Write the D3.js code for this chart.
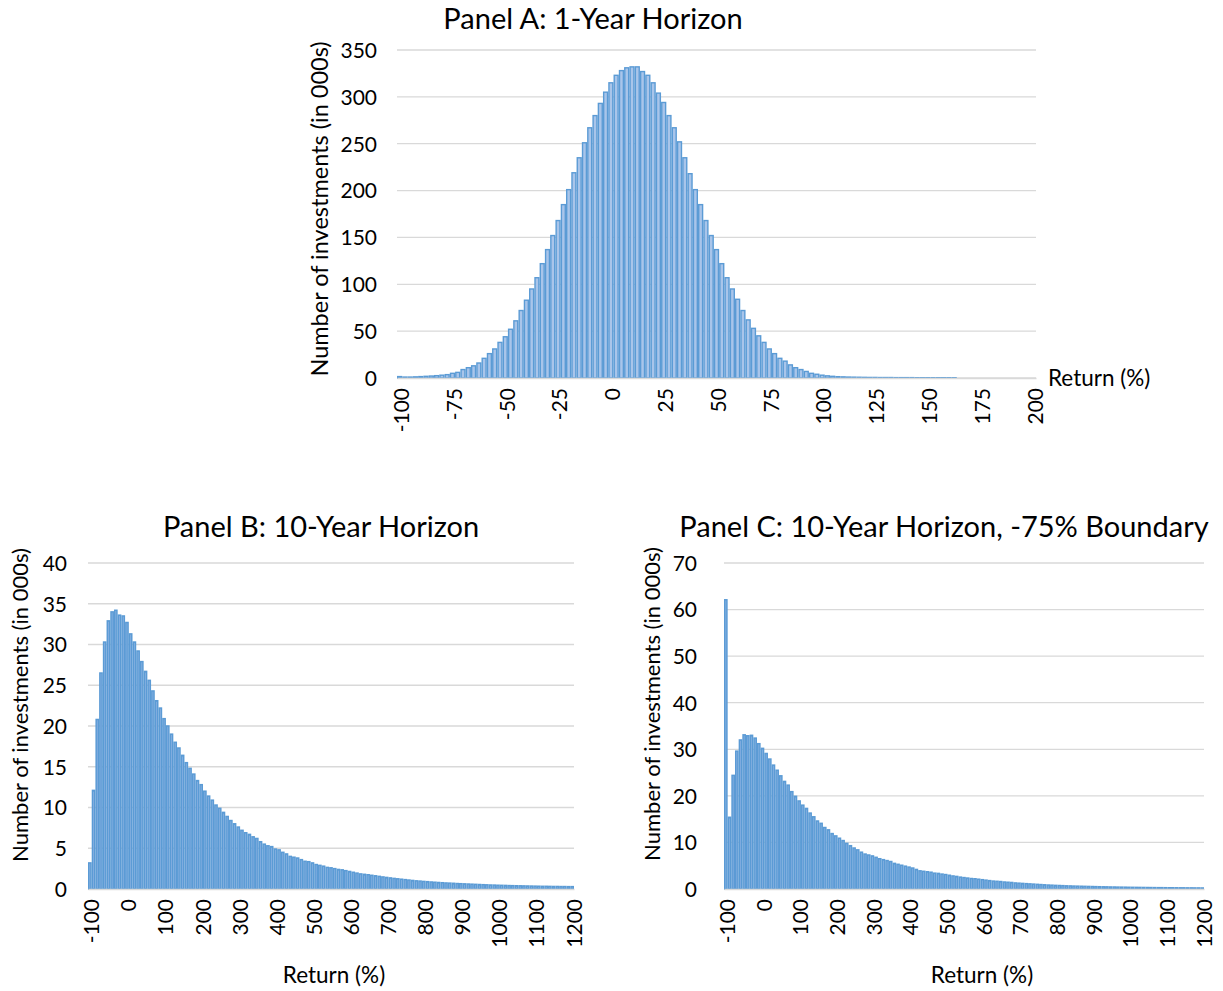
<!DOCTYPE html>
<html><head><meta charset="utf-8">
<script src="https://cdn.jsdelivr.net/npm/d3@7"></script>
<style>
html,body{margin:0;padding:0;background:#fff;}
text{font-family:Lato,"Open Sans",sans-serif;fill:#000;}
</style></head>
<body>
<svg id="chart" width="1223" height="991"></svg>
<script>
// ---------------- DATA ----------------
// Panel A: 1-year horizon, bins of 2.5% from -100 (number of investments, 000s)
const catsA = d3.range(121).map(i => -100 + 2.5 * i);
const valuesA = [1.5, 1, 1, 1.2, 1.5, 1.8, 2.1, 2.5, 3, 3.6,
  5, 6, 9, 11, 13, 16, 21, 26, 31, 38,
  44, 52, 61, 72, 83, 95, 107, 122, 137, 152,
  168, 185, 201, 219, 235, 251, 267, 280, 293, 305,
  315, 323, 328, 331, 332, 332, 327, 323, 315, 304,
  294, 280, 267, 252, 235, 218, 201, 185, 168, 152,
  137, 122, 107, 95, 84, 72, 62, 53, 45, 38,
  31, 26, 21, 18, 14, 11, 9, 7, 5, 4,
  3, 2.3, 1.8, 1.4, 1.2, 1.0, 0.9, 0.8, 0.7, 0.6,
  0.6, 0.5, 0.5, 0.5, 0.4, 0.4, 0.4, 0.4, 0.3, 0.3,
  0.3, 0.3, 0.3, 0.3, 0.3, 0.3];
const ticksA = [-100, -75, -50, -25, 0, 25, 50, 75, 100, 125, 150, 175, 200];
const yTicksA = [0, 50, 100, 150, 200, 250, 300, 350];

// Panel B: 10-year horizon, bins of 10% from -100
const catsB = d3.range(131).map(i => -100 + 10 * i);
const valuesB = [3.2, 12.1, 20.8, 26.5, 30.3, 32.9, 34.0, 34.2, 33.6, 33.5,
  32.7, 31.3, 30.3, 29.2, 27.9, 26.7, 25.6, 24.3, 23.1, 22.2,
  20.9, 20.0, 19.0, 18.0, 17.3, 16.4, 15.5, 14.8, 14.1, 13.3,
  12.8, 12.0, 11.4, 10.9, 10.3, 9.9, 9.4, 8.9, 8.4, 8.0,
  7.6, 7.2, 6.9, 6.7, 6.4, 6.2, 5.8, 5.5, 5.3, 5.2,
  4.9, 4.8, 4.5, 4.3, 4.0, 3.9, 3.8, 3.6, 3.4, 3.35,
  3.2, 3.0, 2.9, 2.8, 2.65, 2.6, 2.5, 2.4, 2.35, 2.25,
  2.15, 2.05, 1.95, 1.85, 1.8, 1.75, 1.68, 1.62, 1.55, 1.48,
  1.42, 1.36, 1.3, 1.25, 1.2, 1.15, 1.1, 1.05, 1.0, 0.97,
  0.93, 0.9, 0.86, 0.83, 0.8, 0.77, 0.74, 0.72, 0.7, 0.67,
  0.65, 0.63, 0.61, 0.59, 0.57, 0.55, 0.53, 0.51, 0.49, 0.48,
  0.46, 0.45, 0.44, 0.42, 0.41, 0.40, 0.39, 0.38, 0.37, 0.36,
  0.35, 0.34, 0.33, 0.33, 0.32, 0.31, 0.31, 0.30, 0.30, 0.29, 0.29];
const ticksBC = [-100, 0, 100, 200, 300, 400, 500, 600, 700, 800, 900, 1000, 1100, 1200];
const yTicksB = [0, 5, 10, 15, 20, 25, 30, 35, 40];

// Panel C: 10-year horizon with -75% boundary, bins of 10% from -100
const catsC = d3.range(131).map(i => -100 + 10 * i);
const valuesC = [62.1, 15.4, 24.4, 29.6, 32.0, 33.1, 32.9, 33.0, 32.4, 31.2,
  30.2, 29.1, 27.9, 26.6, 25.5, 24.3, 23.1, 22.3, 20.9, 19.9,
  18.9, 18.0, 17.3, 16.3, 15.5, 14.6, 14.1, 13.2, 12.7, 11.9,
  11.4, 10.9, 10.4, 9.8, 9.3, 8.8, 8.4, 7.9, 7.5, 7.3,
  7.1, 6.8, 6.5, 6.3, 6.1, 5.9, 5.5, 5.3, 5.1, 4.9,
  4.7, 4.5, 4.2, 3.9, 3.8, 3.7, 3.6, 3.4, 3.35, 3.2,
  3.1, 2.95, 2.8, 2.7, 2.55, 2.45, 2.35, 2.25, 2.2, 2.1,
  2.0, 1.9, 1.8, 1.7, 1.65, 1.6, 1.5, 1.45, 1.4, 1.3,
  1.25, 1.2, 1.15, 1.1, 1.05, 1.0, 0.95, 0.9, 0.85, 0.82,
  0.78, 0.75, 0.72, 0.68, 0.66, 0.63, 0.61, 0.59, 0.57, 0.55,
  0.53, 0.51, 0.49, 0.47, 0.46, 0.44, 0.43, 0.41, 0.40, 0.39,
  0.37, 0.36, 0.35, 0.34, 0.33, 0.32, 0.31, 0.30, 0.29, 0.29,
  0.28, 0.27, 0.27, 0.26, 0.25, 0.25, 0.24, 0.24, 0.23, 0.23, 0.22];
const yTicksC = [0, 10, 20, 30, 40, 50, 60, 70];

const yTitle = "Number of investments (in 000s)";
const xTitle = "Return (%)";

// ---------------- DRAW ----------------
const svg = d3.select("#chart");
const gridColor = "#d9d9d9";
const barFill = "#a9c5ea";
const barStroke = "#5b9bd5";

function panel(cfg) {
  const g = svg.append("g");
  const x = d3.scaleBand().domain(cfg.cats).range([cfg.left, cfg.right]).padding(0);
  const y = d3.scaleLinear().domain([0, cfg.ymax]).range([cfg.bottom, cfg.top]);

  // gridlines
  g.selectAll("line.grid").data(cfg.yTicks).join("line")
    .attr("x1", cfg.left).attr("x2", cfg.right)
    .attr("y1", d => y(d)).attr("y2", d => y(d))
    .attr("stroke", gridColor).attr("stroke-width", 1.3);

  // bars
  const data = cfg.values.map((v, i) => ({c: cfg.cats[i], v}));
  g.selectAll("rect.bar").data(data).join("rect")
    .attr("x", d => x(d.c) + cfg.sw / 2)
    .attr("width", x.bandwidth() - cfg.sw)
    .attr("y", d => y(d.v))
    .attr("height", d => Math.max(0, y(0) - y(d.v)))
    .attr("fill", cfg.fill)
    .attr("stroke", barStroke)
    .attr("stroke-width", cfg.sw);

  // y axis labels
  const yAxis = d3.axisLeft(y).tickValues(cfg.yTicks).tickSize(0).tickPadding(0);
  const ya = g.append("g").attr("transform", `translate(${cfg.yLabelX},0)`).call(yAxis);
  ya.select(".domain").remove();
  ya.selectAll("text").attr("font-size", cfg.tickFs).attr("font-family", "Lato").attr("fill", "#000").attr("dy", "0.35em");

  // x axis labels (category axis, every nth label)
  const xAxis = d3.axisBottom(x).tickValues(cfg.xTicks).tickSize(0).tickPadding(0);
  const xa = g.append("g").attr("transform", `translate(0,${cfg.bottom})`).call(xAxis);
  xa.select(".domain").attr("stroke", gridColor).attr("stroke-width", 1.3);
  xa.selectAll("text")
    .attr("font-size", cfg.tickFs).attr("font-family", "Lato").attr("fill", "#000")
    .attr("text-anchor", "end")
    .attr("transform", `translate(2,${cfg.xLabelGap}) rotate(-90)`)
    .attr("x", 0).attr("y", 0).attr("dy", "0.35em");

  // titles
  g.append("text").attr("x", cfg.titleX).attr("y", cfg.titleY)
    .attr("text-anchor", "middle").attr("font-size", cfg.titleFs).text(cfg.title);
  g.append("text").attr("transform", `translate(${cfg.yTitleX},${cfg.yTitleY}) rotate(-90)`)
    .attr("text-anchor", "middle").attr("dy", "0.35em").attr("font-size", cfg.yTitleFs).text(yTitle);
  g.append("text").attr("x", cfg.xTitleX).attr("y", cfg.xTitleY)
    .attr("text-anchor", cfg.xTitleAnchor).attr("dy", "0.35em").attr("font-size", cfg.axisFs).text(xTitle);
}

panel({cats: catsA, values: valuesA, xTicks: ticksA, yTicks: yTicksA, ymax: 350,
  left: 397, right: 1036, top: 50, bottom: 378, sw: 1.4, fill: barFill,
  yLabelX: 377, xLabelGap: 10, tickFs: 21, axisFs: 22.5, yTitleFs: 23.5, titleFs: 29,
  title: "Panel A: 1-Year Horizon", titleX: 593, titleY: 29,
  yTitleX: 320, yTitleY: 209, xTitleX: 1048, xTitleY: 378, xTitleAnchor: "start"});

panel({cats: catsB, values: valuesB, xTicks: ticksBC, yTicks: yTicksB, ymax: 40,
  left: 88, right: 574, top: 563, bottom: 889, sw: 1.5, fill: "#8fb4e3",
  yLabelX: 67, xLabelGap: 10, tickFs: 21, axisFs: 22.5, yTitleFs: 22, titleFs: 29,
  title: "Panel B: 10-Year Horizon", titleX: 321, titleY: 537,
  yTitleX: 20, yTitleY: 705, xTitleX: 334, xTitleY: 975, xTitleAnchor: "middle"});

panel({cats: catsC, values: valuesC, xTicks: ticksBC, yTicks: yTicksC, ymax: 70,
  left: 724, right: 1204, top: 563, bottom: 889, sw: 1.5, fill: "#8fb4e3",
  yLabelX: 697, xLabelGap: 10, tickFs: 21, axisFs: 22.5, yTitleFs: 22, titleFs: 29,
  title: "Panel C: 10-Year Horizon, -75% Boundary", titleX: 944, titleY: 537,
  yTitleX: 652, yTitleY: 704, xTitleX: 982, xTitleY: 975, xTitleAnchor: "middle"});
</script>
</body></html>
